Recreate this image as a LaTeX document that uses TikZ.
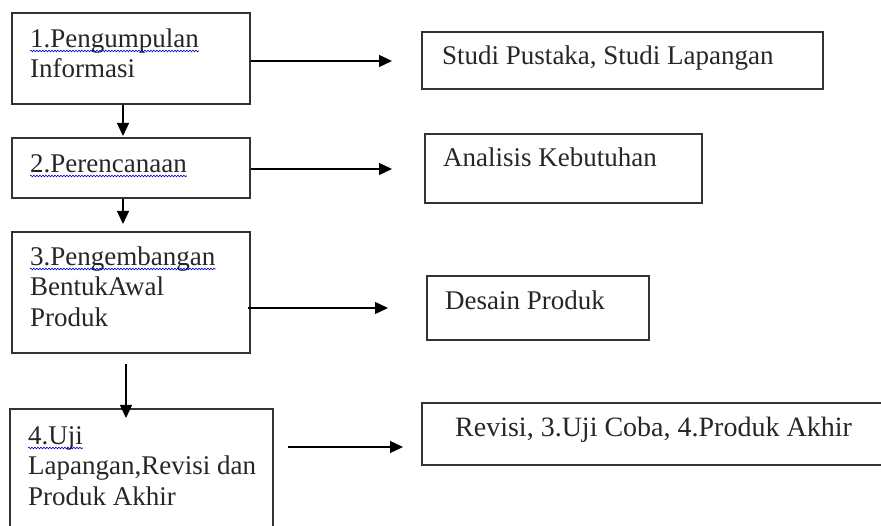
\documentclass[tikz,border=0pt]{standalone}
\usepackage{fontspec}
\setmainfont{Liberation Serif}
\usetikzlibrary{arrows.meta,decorations.pathmorphing,fit}
\begin{document}
\begin{tikzpicture}[x=1pt,y=-1pt,
  box/.style={draw=black!80,line width=1.3pt,inner sep=0pt},
  lbl/.style={anchor=base west,inner sep=0pt,font=\fontsize{27}{30}\selectfont,text=black!85},
  arr/.style={line width=1.3pt,-{Triangle[length=13pt,width=12pt]}},
  wavy/.style={draw=blue!80!black,line width=0.6pt,decorate,decoration={snake,amplitude=0.8pt,segment length=3pt}}]
\useasboundingbox (0,0) rectangle (881,526);
\clip (0,0) rectangle (881,526);
% left boxes
\node[box,fit={(12,13) (250,104)}] (b1) {};
\node[box,fit={(12,138) (250,198)}] (b2) {};
\node[box,fit={(12,232) (250,353)}] (b3) {};
\node[box,fit={(10,409) (273,545)}] (b4) {};
% right boxes
\node[box,fit={(422,32) (823,89)}] (ra) {};
\node[box,fit={(425,134) (702,203)}] (rb) {};
\node[box,fit={(427,276) (649,340)}] (rc) {};
\node[box,fit={(422,403) (900,465)}] (rd) {};
% texts
\node[lbl] (t1a) at (30,48) {1.Pengumpulan};
\node[lbl] (t1b) at (30,78) {Informasi};
\node[lbl] (t2a) at (30,173) {2.Perencanaan};
\node[lbl] (t3a) at (30,266) {3.Pengembangan};
\node[lbl] (t3b) at (30,296) {BentukAwal};
\node[lbl] (t3c) at (30,327) {Produk};
\node[lbl] (t4a) at (28,445) {4.Uji};
\node[lbl] (t4b) at (28,475) {Lapangan,Revisi dan};
\node[lbl] (t4c) at (28,505) {Produk Akhir};
\node[lbl] (ta) at (442,65) {Studi Pustaka, Studi Lapangan};
\node[lbl] (tb) at (443,167) {Analisis Kebutuhan};
\node[lbl] (tc) at (445,310) {Desain Produk};
\node[lbl,font=\fontsize{28}{30}\selectfont] (td) at (455,436) {Revisi, 3.Uji Coba, 4.Produk Akhir};
% wavy underlines
\foreach \t in {t1a,t2a,t3a,t4a}
  \draw[wavy] ([yshift=-3pt]\t.base west) -- ([yshift=-3pt]\t.base east);
% horizontal arrows
\coordinate (e1) at (392,61);
\coordinate (e2) at (392,169);
\coordinate (e3) at (388,308);
\coordinate (s4) at (288,447);
\coordinate (e4) at (403,447);
\draw[arr] (b1.east |- e1) -- (e1);
\draw[arr] (b2.east |- e2) -- (e2);
\draw[arr] ([xshift=-3pt]b3.east |- e3) -- (e3);
\draw[arr] (s4) -- (e4);
% vertical arrows
\coordinate (d1) at (123,136);
\coordinate (d2) at (123,224);
\coordinate (s3) at (126,364);
\coordinate (d3) at (126,418);
\draw[arr] (b1.south -| d1) -- (d1);
\draw[arr] (b2.south -| d2) -- (d2);
\draw[arr] (s3) -- (d3);
\end{tikzpicture}
\end{document}
